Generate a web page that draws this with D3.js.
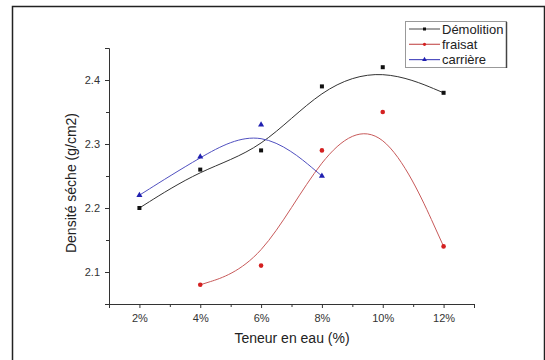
<!DOCTYPE html>
<html>
<head>
<meta charset="utf-8">
<script src="https://cdn.jsdelivr.net/npm/d3@7"></script>
<style>
  body { margin: 0; background: #fff; }
  svg { display: block; font-family: "Liberation Sans", Arial, sans-serif; }
</style>
</head>
<body>
<div id="chart"></div>
<script>
const xTicks = [2, 4, 6, 8, 10, 12];
const yTicks = [2.1, 2.2, 2.3, 2.4];

const demolitionX = [2, 4, 6, 8, 10, 12];
const demolitionY = [2.20, 2.26, 2.29, 2.39, 2.42, 2.38];
const fraisatX = [4, 6, 8, 10, 12];
const fraisatY = [2.08, 2.11, 2.29, 2.35, 2.14];
const carriereX = [2, 4, 6, 8];
const carriereY = [2.22, 2.28, 2.33, 2.25];

const seriesNames = ["Démolition", "fraisat", "carrière"];
const seriesColors = ["#111", "#d42020", "#2020b0"];
const lineColors = ["#333", "#c85a5a", "#5050c0"];

const W = 545, H = 360;
const svg = d3.select("#chart").append("svg")
  .attr("width", W)
  .attr("height", H);

// outer frame
svg.append("rect")
  .attr("x", 12.5).attr("y", 6.5)
  .attr("width", 532).attr("height", 400)
  .attr("fill", "none")
  .attr("stroke", "#222")
  .attr("stroke-width", 1.5);

const x = d3.scaleLinear().domain([1, 13]).range([109, 474]);
const y = d3.scaleLinear().domain([2.05, 2.45]).range([304, 48]);

// x axis
const xAxis = svg.append("g")
  .attr("transform", "translate(0,304)")
  .call(d3.axisBottom(x).tickValues(xTicks).tickSize(4).tickPadding(6)
    .tickFormat(d => d + "%"));
svg.append("g")
  .attr("transform", "translate(0,304)")
  .call(d3.axisBottom(x).tickValues([1, 3, 5, 7, 9, 11, 13]).tickSize(3).tickFormat(""))
  .select(".domain").remove();

// y axis
const yAxis = svg.append("g")
  .attr("transform", "translate(109,0)")
  .call(d3.axisLeft(y).tickValues(yTicks).tickSize(4).tickPadding(5)
    .tickFormat(d3.format(".1f")));
svg.append("g")
  .attr("transform", "translate(109,0)")
  .call(d3.axisLeft(y).tickValues([2.05, 2.15, 2.25, 2.35, 2.45]).tickSize(3).tickFormat(""))
  .select(".domain").remove();

svg.selectAll(".domain").attr("stroke", "#333");
svg.selectAll(".tick line").attr("stroke", "#333");
svg.selectAll(".tick text")
  .attr("fill", "#333")
  .style("font-size", "11px");

// axis titles
svg.append("text")
  .attr("x", 292).attr("y", 343)
  .attr("text-anchor", "middle")
  .attr("fill", "#222")
  .style("font-size", "14px")
  .text("Teneur en eau (%)");

svg.append("text")
  .attr("transform", "translate(76,183) rotate(-90)")
  .attr("text-anchor", "middle")
  .attr("fill", "#222")
  .style("font-size", "14px")
  .text("Densité séche (g/cm2)");

// curves (B-spline through the data points)
const allSeries = [
  { xs: demolitionX, ys: demolitionY },
  { xs: fraisatX, ys: fraisatY },
  { xs: carriereX, ys: carriereY }
];

const line = d3.line()
  .x(d => x(d[0]))
  .y(d => y(d[1]))
  .curve(d3.curveBasis);

allSeries.forEach((s, i) => {
  const pts = s.xs.map((v, j) => [v, s.ys[j]]);
  svg.append("path")
    .datum(pts)
    .attr("fill", "none")
    .attr("stroke", lineColors[i])
    .attr("stroke-width", 1)
    .attr("d", line);

  const g = svg.append("g");
  if (i === 0) {
    g.selectAll("rect").data(pts).enter().append("rect")
      .attr("x", d => x(d[0]) - 2).attr("y", d => y(d[1]) - 2)
      .attr("width", 4).attr("height", 4)
      .attr("fill", seriesColors[i]);
  } else if (i === 1) {
    g.selectAll("circle").data(pts).enter().append("circle")
      .attr("cx", d => x(d[0])).attr("cy", d => y(d[1]))
      .attr("r", 2.3)
      .attr("fill", seriesColors[i]);
  } else {
    g.selectAll("path").data(pts).enter().append("path")
      .attr("transform", d => "translate(" + x(d[0]) + "," + y(d[1]) + ")")
      .attr("d", d3.symbol().type(d3.symbolTriangle).size(16))
      .attr("fill", seriesColors[i]);
  }
});

// legend
const legend = svg.append("g").attr("transform", "translate(405,21)");
legend.append("rect")
  .attr("x", 0.5).attr("y", 0.5)
  .attr("width", 101).attr("height", 46)
  .attr("fill", "#fff")
  .attr("stroke", "#999")
  .attr("stroke-width", 1);
legend.append("line")
  .attr("x1", 101.5).attr("x2", 101.5).attr("y1", 1).attr("y2", 47)
  .attr("stroke", "#444").attr("stroke-width", 1.5);

const items = legend.selectAll(".legend-item")
  .data(seriesNames)
  .enter()
  .append("g")
  .attr("class", "legend-item")
  .attr("transform", (d, i) => "translate(0," + (8 + i * 15.3) + ")");

items.append("line")
  .attr("x1", 4).attr("x2", 35)
  .attr("stroke", (d, i) => i === 0 ? "#666" : lineColors[i])
  .attr("stroke-width", 1.2);

items.each(function (d, i) {
  const it = d3.select(this);
  if (i === 0) {
    it.append("rect").attr("x", 18).attr("y", -1.5).attr("width", 3).attr("height", 3).attr("fill", seriesColors[i]);
  } else if (i === 1) {
    it.append("circle").attr("cx", 19.5).attr("cy", 0).attr("r", 1.6).attr("fill", seriesColors[i]);
  } else {
    it.append("path").attr("transform", "translate(19.5,0)")
      .attr("d", d3.symbol().type(d3.symbolTriangle).size(10)).attr("fill", seriesColors[i]);
  }
});

items.append("text")
  .attr("x", 37)
  .attr("dy", "0.36em")
  .attr("fill", "#222")
  .style("font-size", "13px")
  .text(d => d);
</script>
</body>
</html>
